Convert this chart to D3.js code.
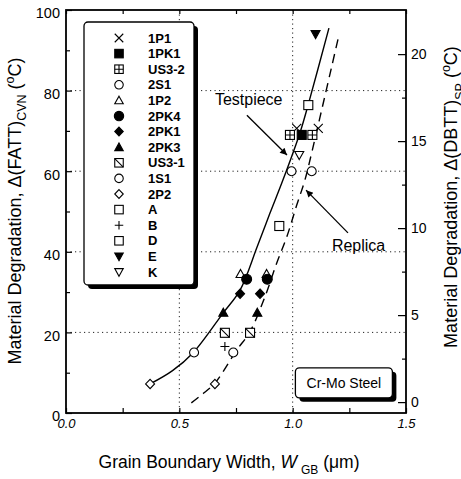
<!DOCTYPE html>
<html>
<head>
<meta charset="utf-8">
<script src="https://cdn.jsdelivr.net/npm/d3@7"></script>
<style>
  body { margin: 0; background: #fff; }
  svg { display: block; }
  text { font-family: "Liberation Sans", Arial, Helvetica, sans-serif; fill: #000; }
</style>
</head>
<body>
<svg id="chart" width="461" height="479"></svg>
<script>
// ---- data -------------------------------------------------------------
// steels and the legend symbol used for each
const materials = ["1P1", "1PK1", "US3-2", "2S1", "1P2", "2PK4", "2PK1", "2PK3",
                   "US3-1", "1S1", "2P2", "A", "B", "D", "E", "K"];
const symbols = ["cross", "squareFilled", "squareGrid", "circle", "triangle", "circleFilled",
                 "diamondFilled", "triangleFilled", "squareSlash", "circle", "diamond",
                 "square", "plus", "square", "triangleDownFilled", "triangleDown"];
// Δ(FATT)CVN, °C
const fatt = [70.6, 69, 69, 15, 34.5, 33.2, 29.6, 24.9, 19.9, 60, 7.2, 76.4, 16.5, 46.4, 94, 64];
// grain boundary width (μm) measured on the test piece and on the replica
const wgbTestpiece = [1.018, 1.04, 0.988, 0.565, 0.770, 0.797, 0.768, 0.694, 0.701, 0.995,
                      0.371, 1.069, 0.701, null, 1.101, 1.029];
const wgbReplica = [1.113, null, 1.087, 0.738, 0.885, 0.888, 0.856, 0.844, 0.812, 1.084,
                    0.657, null, null, 0.941, null, null];

// trend lines
const testpieceLineX = [0.371, 0.47, 0.56, 0.693, 0.768, 0.843, 0.900, 0.957, 1.032, 1.068, 1.160];
const testpieceLineY = [7.2, 10.5, 14.9, 24.8, 30.5, 41.2, 49.6, 57.8, 69.5, 76.4, 95.5];
const replicaLineX = [0.553, 0.60, 0.657, 0.753, 0.812, 0.878, 0.929, 0.974, 1.018, 1.054, 1.087, 1.128, 1.172, 1.205];
const replicaLineY = [2.5, 4.6, 7.4, 15.6, 20.2, 28.9, 37.1, 43.7, 51.6, 57.8, 65.3, 75.2, 85.9, 94];

// axes
const xTicks = [0, 0.5, 1.0, 1.5];
const xMinorTicks = [0.25, 0.75, 1.25];
const yTicks = [0, 20, 40, 60, 80, 100];
const yMinorTicks = [10, 30, 50, 70, 90];
const yRightTicks = [0, 5, 10, 15, 20];
const yRightMinorTicks = [2.5, 7.5, 12.5, 17.5];
const xGrid = [0.5, 1.0];
const yGrid = [20, 40, 60, 80];

// ---- layout -----------------------------------------------------------
const svg = d3.select("#chart");
const plot = { left: 66, right: 406, top: 10, bottom: 413 };

const x = d3.scaleLinear().domain([0, 1.5]).range([plot.left, plot.right]);
const y = d3.scaleLinear().domain([0, 100]).range([plot.bottom, plot.top]);
// right axis: Δ(DBTT) scale
const yR = d3.scaleLinear().domain([0, 20]).range([y(2.7), y(89.05)]);

// ---- grid -------------------------------------------------------------
const grid = svg.append("g")
  .attr("stroke", "#222").attr("stroke-width", 1).attr("stroke-dasharray", "1.2,3.3");
yGrid.forEach(v => grid.append("line")
  .attr("x1", plot.left).attr("x2", plot.right).attr("y1", y(v)).attr("y2", y(v)));
xGrid.forEach(v => grid.append("line")
  .attr("x1", x(v)).attr("x2", x(v)).attr("y1", plot.top).attr("y2", plot.bottom));

// ---- trend lines ------------------------------------------------------
const line = d3.line().x(d => x(d[0])).y(d => y(d[1])).curve(d3.curveCatmullRom.alpha(0.5));
svg.append("path")
  .datum(testpieceLineX.map((v, i) => [v, testpieceLineY[i]]))
  .attr("d", line).attr("fill", "none").attr("stroke", "#000").attr("stroke-width", 1.4);
svg.append("path")
  .datum(replicaLineX.map((v, i) => [v, replicaLineY[i]]))
  .attr("d", line).attr("fill", "none").attr("stroke", "#000").attr("stroke-width", 1.4)
  .attr("stroke-dasharray", "9,6");

// ---- markers ----------------------------------------------------------
function drawMarker(g, type, cx, cy, s) {
  const h = s / 2;
  const m = g.append("g").attr("transform", `translate(${cx},${cy})`)
    .attr("stroke", "#000").attr("stroke-width", 1.1).attr("fill", "#fff");
  const tri = `M0,${-h}L${h},${h * 0.8}L${-h},${h * 0.8}Z`;
  const triDown = `M0,${h}L${h},${-h * 0.8}L${-h},${-h * 0.8}Z`;
  const dia = `M0,${-h * 1.05}L${h},0L0,${h * 1.05}L${-h},0Z`;
  switch (type) {
    case "cross":
      m.append("path").attr("d", `M${-h},${-h}L${h},${h}M${-h},${h}L${h},${-h}`); break;
    case "plus":
      m.append("path").attr("d", `M${-h},0L${h},0M0,${-h}L0,${h}`); break;
    case "square":
      m.append("rect").attr("x", -h).attr("y", -h).attr("width", s).attr("height", s); break;
    case "squareFilled":
      m.append("rect").attr("x", -h).attr("y", -h).attr("width", s).attr("height", s).attr("fill", "#000"); break;
    case "squareGrid":
      m.append("rect").attr("x", -h).attr("y", -h).attr("width", s).attr("height", s);
      m.append("path").attr("d", `M${-h},0H${h}M0,${-h}V${h}`); break;
    case "squareSlash":
      m.append("rect").attr("x", -h).attr("y", -h).attr("width", s).attr("height", s);
      m.append("path").attr("d", `M${-h},${-h}L${h},${h}`); break;
    case "circle":
      m.append("circle").attr("r", h); break;
    case "circleFilled":
      m.append("circle").attr("r", h * 1.1).attr("fill", "#000"); break;
    case "diamond":
      m.append("path").attr("d", dia); break;
    case "diamondFilled":
      m.append("path").attr("d", dia).attr("fill", "#000"); break;
    case "triangle":
      m.append("path").attr("d", tri); break;
    case "triangleFilled":
      m.append("path").attr("d", tri).attr("fill", "#000"); break;
    case "triangleDown":
      m.append("path").attr("d", triDown); break;
    case "triangleDownFilled":
      m.append("path").attr("d", triDown).attr("fill", "#000"); break;
  }
}

const pts = svg.append("g");
materials.forEach((m, i) => {
  if (wgbTestpiece[i] !== null) drawMarker(pts, symbols[i], x(wgbTestpiece[i]), y(fatt[i]), 9);
  if (wgbReplica[i] !== null) drawMarker(pts, symbols[i], x(wgbReplica[i]), y(fatt[i]), 9);
});

// ---- legend -----------------------------------------------------------
const lg = { x: 84, y: 22, w: 110, h: 263, row: 15.6 };
const legend = svg.append("g");
legend.append("rect").attr("x", lg.x + 4).attr("y", lg.y + 4).attr("width", lg.w).attr("height", lg.h)
  .attr("rx", 4).attr("fill", "#000");
legend.append("rect").attr("x", lg.x).attr("y", lg.y).attr("width", lg.w).attr("height", lg.h)
  .attr("rx", 4).attr("fill", "#fff").attr("stroke", "#000").attr("stroke-width", 1.3);
materials.forEach((m, i) => {
  const cy = lg.y + 16 + i * lg.row;
  drawMarker(legend, symbols[i], lg.x + 35, cy, 8.5);
  legend.append("text").attr("x", lg.x + 64).attr("y", cy + 4.6)
    .attr("font-size", 13).attr("font-weight", "bold").text(m);
});

// ---- annotations ------------------------------------------------------
const defs = svg.append("defs");
defs.append("marker").attr("id", "head").attr("viewBox", "0 0 10 10")
  .attr("refX", 10).attr("refY", 5).attr("markerWidth", 10).attr("markerHeight", 7)
  .attr("markerUnits", "userSpaceOnUse").attr("orient", "auto")
  .append("path").attr("d", "M0,0L10,5L0,10Z").attr("fill", "#000");

svg.append("text").attr("x", x(0.657)).attr("y", y(76.4)).attr("font-size", 16).text("Testpiece");
svg.append("line")
  .attr("x1", x(0.798)).attr("y1", y(73.9)).attr("x2", x(0.975)).attr("y2", y(64.0))
  .attr("stroke", "#000").attr("stroke-width", 1.3).attr("marker-end", "url(#head)");

svg.append("text").attr("x", x(1.173)).attr("y", y(40.2)).attr("font-size", 16).text("Replica");
svg.append("line")
  .attr("x1", x(1.244)).attr("y1", y(44.7)).attr("x2", x(1.059)).attr("y2", y(55.3))
  .attr("stroke", "#000").attr("stroke-width", 1.3).attr("marker-end", "url(#head)");

// material box
const mb = { x: x(1.012), y: y(11.2), w: 97, h: 30 };
svg.append("rect").attr("x", mb.x + 4).attr("y", mb.y + 4).attr("width", mb.w).attr("height", mb.h)
  .attr("rx", 4).attr("fill", "#000");
svg.append("rect").attr("x", mb.x).attr("y", mb.y).attr("width", mb.w).attr("height", mb.h)
  .attr("rx", 4).attr("fill", "#fff").attr("stroke", "#000").attr("stroke-width", 1.3);
svg.append("text").attr("x", mb.x + mb.w / 2).attr("y", mb.y + 20).attr("text-anchor", "middle")
  .attr("font-size", 14).text("Cr-Mo Steel");

// ---- axes -------------------------------------------------------------
function styleAxis(g) {
  g.select(".domain").remove();
  g.selectAll(".tick line").attr("stroke", "#000").attr("stroke-width", 1.2);
  g.selectAll("text").attr("fill", "#000").attr("font-family", null);
}

svg.append("g").attr("transform", `translate(${plot.left},0)`)
  .call(d3.axisLeft(y).tickValues(yTicks).tickSize(-6).tickPadding(6).tickFormat(d3.format("d")))
  .call(styleAxis)
  .call(g => g.selectAll("text").attr("font-size", 14.5).attr("dy", "0.55em"));
svg.append("g").attr("transform", `translate(${plot.left},0)`)
  .call(d3.axisLeft(y).tickValues(yMinorTicks).tickSize(-4).tickFormat(""))
  .call(styleAxis);

svg.append("g").attr("transform", `translate(${plot.right},0)`)
  .call(d3.axisRight(yR).tickValues(yRightTicks).tickSize(-8).tickPadding(5).tickFormat(d3.format("d")))
  .call(styleAxis)
  .call(g => g.selectAll("text").attr("font-size", 14));
svg.append("g").attr("transform", `translate(${plot.right},0)`)
  .call(d3.axisRight(yR).tickValues(yRightMinorTicks).tickSize(-4).tickFormat(""))
  .call(styleAxis);

svg.append("g").attr("transform", `translate(0,${plot.bottom})`)
  .call(d3.axisBottom(x).tickValues(xTicks).tickSize(-5).tickPadding(6).tickFormat(d3.format(".1f")))
  .call(styleAxis)
  .call(g => g.selectAll("text").attr("font-size", 13).attr("font-style", "italic"));
svg.append("g").attr("transform", `translate(0,${plot.bottom})`)
  .call(d3.axisBottom(x).tickValues(xMinorTicks).tickSize(-5).tickFormat(""))
  .call(styleAxis);
svg.append("g").attr("transform", `translate(0,${plot.top})`)
  .call(d3.axisTop(x).tickValues(xMinorTicks.concat(xTicks)).tickSize(-4).tickFormat(""))
  .call(styleAxis);

// frame
svg.append("rect")
  .attr("x", plot.left).attr("y", plot.top)
  .attr("width", plot.right - plot.left).attr("height", plot.bottom - plot.top)
  .attr("fill", "none").attr("stroke", "#000").attr("stroke-width", 1.8);

// ---- axis titles ------------------------------------------------------
const xt = svg.append("text").attr("x", 229).attr("y", 468).attr("text-anchor", "middle").attr("font-size", 17.5);
xt.append("tspan").text("Grain Boundary Width, ");
xt.append("tspan").attr("font-style", "italic").text("W");
xt.append("tspan").attr("font-size", 12).attr("dx", 4).attr("dy", 6).text("GB");
xt.append("tspan").attr("dy", -6).text(" (\u03BCm)");

const yl = svg.append("text").attr("transform", "translate(21,211) rotate(-90)")
  .attr("text-anchor", "middle").attr("font-size", 18);
yl.append("tspan").text("Material Degradation, \u0394(FATT)");
yl.append("tspan").attr("font-size", 12.5).attr("dy", 5).text("CVN");
yl.append("tspan").attr("dy", -5).text(" (");
yl.append("tspan").attr("font-size", 12.5).attr("dy", -7).text("o");
yl.append("tspan").attr("dy", 7).text("C)");

const yr = svg.append("text").attr("transform", "translate(457,197) rotate(-90)")
  .attr("text-anchor", "middle").attr("font-size", 18);
yr.append("tspan").text("Material Degradation, \u0394(DBTT)");
yr.append("tspan").attr("font-size", 12.5).attr("dy", 7).text("SP");
yr.append("tspan").attr("dy", -7).text(" (");
yr.append("tspan").attr("font-size", 12.5).attr("dy", -7).text("o");
yr.append("tspan").attr("dy", 7).text("C)");
</script>
</body>
</html>
